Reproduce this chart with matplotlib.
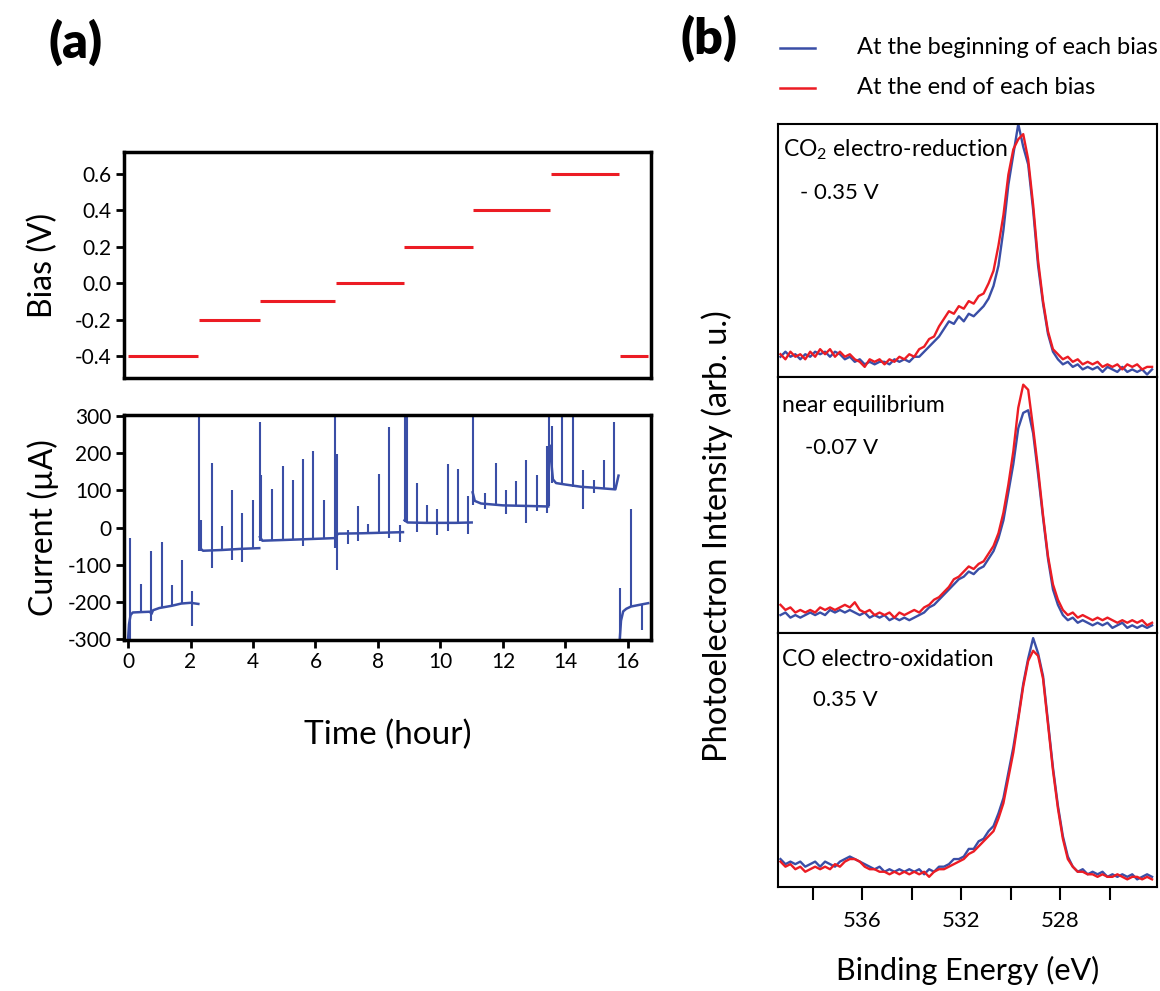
import numpy as np
import matplotlib
matplotlib.use("Agg")
import matplotlib.pyplot as plt

plt.rcParams['font.family'] = ['Lato', 'DejaVu Sans']
plt.rcParams['mathtext.fontset'] = 'custom'
plt.rcParams['mathtext.rm'] = 'Lato'
plt.rcParams['mathtext.default'] = 'regular'
plt.rcParams['axes.unicode_minus'] = False

BLUE = '#3a4ea6'
RED = '#ec1c24'

# ---------------- Panel (a) data ----------------
bias_start = [0.0, 2.27, 4.22, 6.65, 8.83, 11.05, 13.54, 15.74]
bias_end = [2.24, 4.22, 6.62, 8.83, 11.04, 13.50, 15.70, 16.64]
bias_value = [-0.4, -0.2, -0.1, 0.0, 0.2, 0.4, 0.6, -0.4]

seg1_t = [0.0, 0.03, 0.08, 0.15, 0.4, 0.7, 0.75, 0.8, 1.0, 1.4, 1.7, 2.0, 2.25]
seg1_i = [-300, -260, -235, -228, -227, -226, -232, -222, -216, -210, -204, -202, -205]
seg2_t = [2.3, 2.4, 3.0, 3.6, 4.2]
seg2_i = [-55, -62, -60, -57, -55]
seg3_t = [4.22, 4.3, 5.0, 6.0, 6.62]
seg3_i = [-25, -35, -33, -30, -28]
seg4_t = [6.65, 6.75, 7.5, 8.8]
seg4_i = [-20, -16, -15, -12]
seg5_t = [8.85, 8.95, 9.5, 10.5, 11.0]
seg5_i = [20, 14, 13, 13, 14]
seg6_t = [11.03, 11.1, 11.3, 12.0, 13.0, 13.45]
seg6_i = [95, 72, 65, 60, 58, 57]
seg7_t = [13.5, 13.6, 13.7, 14.0, 14.5, 15.0, 15.6, 15.7]
seg7_i = [220, 130, 120, 116, 110, 107, 103, 140]
seg8_t = [15.74, 15.78, 15.85, 15.95, 16.1, 16.4, 16.65]
seg8_i = [-300, -250, -225, -218, -212, -207, -203]

spike_t = [0.07, 0.40, 0.74, 1.08, 1.40, 1.73, 2.06, 2.27, 2.32, 2.68, 3.00, 3.33,
           3.66, 4.00, 4.21, 4.27, 4.62, 4.95, 5.28, 5.60, 5.93, 6.27, 6.61, 6.68,
           7.04, 7.37, 7.69, 8.02, 8.35, 8.70, 8.87, 8.92, 9.25, 9.58, 9.90, 10.23,
           10.56, 10.88, 11.03, 11.44, 11.77, 12.10, 12.42, 12.75, 13.08, 13.40,
           13.49, 13.56, 13.90, 14.23, 14.56, 14.90, 15.23, 15.55, 15.76, 16.10, 16.44]
spike_low = [-300, -228, -252, -216, -210, -204, -264, -62, -62, -109, -60, -86,
             -91, -56, -35, -35, -33, -33, -32, -50, -30, -29, -55, -113,
             -43, -37, -15, -14, -28, -39, 14, 14, -12, 13, -21, -10,
             13, -17, 60, 50, 60, 37, 58, 13, 44, 40,
             57, 120, 116, 110, 49, 93, 104, 103, -300, -212, -276]
spike_high = [-28, -151, -64, -39, -153, -86, -171, 300, 22, 174, 5, 102,
              40, 75, 284, 143, 105, 167, 128, 185, 206, 74, 300, 197,
              -5, 58, 11, 145, 270, 6, 300, 300, 119, 62, 49, 172,
              158, 86, 300, 92, 174, 102, 125, 183, 141, 219,
              300, 273, 300, 300, 154, 129, 183, 284, -162, 49, -205]

# ---------------- Panel (b) data ----------------
energy = np.linspace(539.3, 524.3, 76)

red_reduction = [9, 7, 10, 8, 9, 7, 10, 8, 11, 9, 11, 8, 10, 8, 9, 7, 6, 4, 7, 6,
                 7, 5, 7, 6, 8, 7, 9, 8, 11, 12, 15, 16, 20, 23, 26, 25, 28, 27, 30, 29,
                 32, 33, 37, 42, 52, 64, 80, 90, 94, 96, 86, 68, 46, 30, 18, 11, 9, 7, 8, 6,
                 7, 5, 6, 5, 6, 4, 5, 4, 5, 3, 5, 4, 5, 3, 4, 4]
blue_reduction = [8, 10, 8, 9, 7, 9, 8, 10, 9, 10, 8, 10, 9, 7, 8, 6, 7, 5, 6, 5,
                  6, 6, 5, 7, 6, 7, 6, 8, 8, 10, 12, 14, 16, 19, 22, 21, 24, 22, 25, 24,
                  26, 28, 31, 36, 44, 58, 76, 88, 100, 91, 84, 66, 44, 29, 17, 10, 7, 5, 6, 4,
                  5, 3, 4, 3, 4, 2, 4, 3, 2, 4, 2, 3, 2, 3, 1, 3]
red_equil = [11, 9, 10, 8, 9, 8, 9, 8, 10, 9, 10, 9, 10, 11, 10, 12, 9, 8, 9, 7,
             8, 7, 8, 6, 8, 7, 8, 9, 8, 10, 11, 13, 14, 16, 18, 21, 22, 24, 26, 25,
             27, 28, 31, 34, 39, 47, 58, 71, 88, 97, 95, 80, 64, 46, 30, 19, 13, 9, 7, 8,
             6, 7, 6, 5, 6, 5, 6, 5, 4, 5, 4, 5, 4, 5, 3, 4]
blue_equil = [7, 8, 6, 7, 6, 7, 8, 7, 8, 7, 9, 8, 9, 8, 9, 8, 7, 8, 6, 7,
              6, 7, 5, 6, 5, 6, 5, 6, 7, 8, 10, 11, 13, 15, 17, 19, 21, 22, 24, 23,
              25, 26, 29, 32, 37, 44, 55, 66, 80, 86, 87, 78, 62, 45, 29, 17, 11, 7, 5, 6,
              4, 5, 4, 3, 4, 3, 4, 2, 3, 4, 2, 3, 2, 3, 2, 3]
red_oxid = [10, 8, 9, 7, 8, 6, 7, 8, 7, 8, 7, 9, 8, 10, 11, 11, 10, 8, 7, 7,
            6, 6, 5, 6, 5, 6, 5, 6, 5, 6, 4, 6, 7, 7, 8, 9, 10, 11, 13, 14,
            16, 18, 20, 22, 27, 33, 43, 53, 66, 79, 89, 93, 91, 82, 64, 46, 31, 19, 11, 8,
            6, 6, 5, 5, 4, 5, 4, 4, 5, 4, 3, 4, 4, 3, 4, 3]
blue_oxid = [11, 9, 10, 9, 10, 8, 9, 10, 8, 10, 9, 8, 10, 11, 12, 11, 10, 9, 8, 7,
             8, 6, 7, 6, 7, 6, 7, 6, 7, 5, 7, 6, 8, 8, 9, 11, 11, 12, 15, 15,
             18, 19, 22, 24, 29, 35, 45, 55, 67, 80, 90, 98, 92, 83, 65, 47, 32, 20, 12, 8,
             6, 7, 5, 6, 5, 6, 4, 5, 4, 5, 4, 5, 3, 4, 5, 4]

panel_titles = ['CO$_2$ electro-reduction', 'near equilibrium', 'CO electro-oxidation']
panel_bias = ['- 0.35 V', '-0.07 V', '0.35 V']
legend_labels = ['At the beginning of each bias', 'At the end of each bias']

# ---------------- Figure ----------------
W, H = 1160, 991
fig = plt.figure(figsize=(W / 100, H / 100), dpi=100)


def fx(x):
    return x / W


def fy(y):
    return 1 - y / H


def ax_rect(x0, y0, x1, y1):
    return [fx(x0), fy(y1), (x1 - x0) / W, (y1 - y0) / H]


# Bias axes
axb = fig.add_axes(ax_rect(124, 152, 651, 378))
for s, e, v in zip(bias_start, bias_end, bias_value):
    axb.hlines(v, s, e, color=RED, lw=2.2)
axb.set_xlim(-0.13, 16.74)
axb.set_ylim(-0.52, 0.72)
axb.set_yticks([-0.4, -0.2, 0.0, 0.2, 0.4, 0.6])
axb.set_yticklabels(['-0.4', '-0.2', '0.0', '0.2', '0.4', '0.6'])
axb.set_xticks([])
axb.tick_params(axis='y', direction='out', length=6, width=2, labelsize=15, pad=3)
for sp in axb.spines.values():
    sp.set_linewidth(2.5)

# Current axes
axc = fig.add_axes(ax_rect(124, 415, 651, 640))
for t, i in [(seg1_t, seg1_i), (seg2_t, seg2_i), (seg3_t, seg3_i), (seg4_t, seg4_i),
             (seg5_t, seg5_i), (seg6_t, seg6_i), (seg7_t, seg7_i), (seg8_t, seg8_i)]:
    axc.plot(t, i, color=BLUE, lw=1.8)
axc.vlines(spike_t, spike_low, spike_high, color=BLUE, lw=1.5)
axc.set_xlim(-0.13, 16.74)
axc.set_ylim(-302, 303)
axc.set_yticks([-300, -200, -100, 0, 100, 200, 300])
axc.set_xticks(range(0, 17, 2))
axc.tick_params(direction='out', length=6, width=2, labelsize=15, pad=3)
for sp in axc.spines.values():
    sp.set_linewidth(2.5)

fig.text(fx(43), fy(265), 'Bias (V)', rotation=90, ha='center', va='center', fontsize=23)
fig.text(fx(43), fy(528), 'Current (µA)', rotation=90, ha='center', va='center', fontsize=23)
fig.text(fx(388), fy(735), 'Time (hour)', ha='center', va='center', fontsize=24)
fig.text(fx(76), fy(42), '(a)', ha='center', va='center', fontsize=36, fontweight='heavy')
fig.text(fx(709), fy(38), '(b)', ha='center', va='center', fontsize=36, fontweight='heavy')

# Panel (b)
rects = [(124, 377), (377, 633), (633, 887)]
blues = [blue_reduction, blue_equil, blue_oxid]
reds = [red_reduction, red_equil, red_oxid]
title_pos = [(783, 150), (782, 405), (782, 660)]
bias_pos = [(800, 193), (805, 448), (813, 700)]
for k, (y0, y1) in enumerate(rects):
    ax = fig.add_axes(ax_rect(778, y0, 1157, y1))
    ax.plot(energy, blues[k], color=BLUE, lw=1.7)
    ax.plot(energy, reds[k], color=RED, lw=1.7)
    ax.set_xlim(539.4, 524.1)
    ax.set_ylim(0, 100)
    ax.set_yticks([])
    for sp in ax.spines.values():
        sp.set_linewidth(1.5)
    if k < 2:
        ax.set_xticks([])
    else:
        ax.set_xticks([538, 536, 534, 532, 530, 528, 526])
        ax.set_xticklabels(['', '536', '', '532', '', '528', ''])
        ax.tick_params(axis='x', direction='out', length=9, width=1.5, labelsize=16, pad=8)
    fig.text(fx(title_pos[k][0]), fy(title_pos[k][1]), panel_titles[k], ha='left', va='center', fontsize=16.5)
    fig.text(fx(bias_pos[k][0]), fy(bias_pos[k][1]), panel_bias[k], ha='left', va='center', fontsize=16)

fig.text(fx(717), fy(536), 'Photoelectron Intensity (arb. u.)', rotation=90, ha='center', va='center', fontsize=23.5)
fig.text(fx(968), fy(970), 'Binding Energy (eV)', ha='center', va='center', fontsize=22)

# Legend
for yy, col, lab in [(48, BLUE, legend_labels[0]), (88, RED, legend_labels[1])]:
    fig.add_artist(plt.Line2D([fx(780), fx(815)], [fy(yy), fy(yy)], color=col, lw=1.8))
    fig.text(fx(857), fy(yy), lab, ha='left', va='center', fontsize=17)

fig.savefig('out.png', dpi=100)
